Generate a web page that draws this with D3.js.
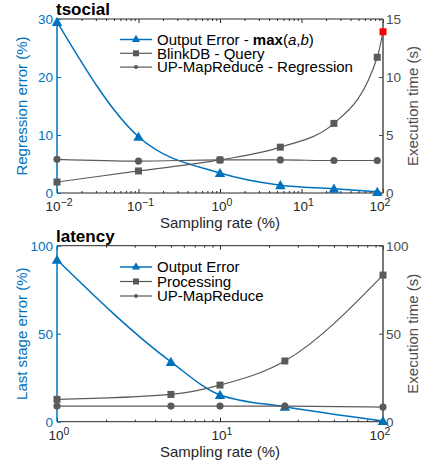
<!DOCTYPE html>
<html>
<head>
<meta charset="utf-8">
<script src="https://cdn.jsdelivr.net/npm/d3@7"></script>
<style>
  body { margin: 0; background: #fff; }
  svg { font-family: "Liberation Sans", Arial, sans-serif; }
  .domain { display: none; }
</style>
</head>
<body>
<div class="chart"></div>
<script>
// tsocial panel data
var tsocialRate = [0.01, 0.1, 1, 5.5, 25, 85];
var tsocialError = [29.5, 9.7, 3.45, 1.35, 0.75, 0.2];
var tsocialBlinkRate = [0.01, 0.1, 1, 5.5, 25, 85, 100];
var tsocialBlink = [0.95, 1.9, 2.85, 3.95, 6.0, 11.7, 13.9];
var tsocialUP = [2.9, 2.75, 2.85, 2.85, 2.8, 2.8];

// latency panel data
var latencyRate = [1, 5, 10, 25, 100];
var latencyError = [92, 34, 15.2, 8.5, 0.4];
var latencyProc = [12.7, 15.5, 20.8, 34.5, 83.3];
var latencyUP = [8.9, 8.9, 8.9, 8.9, 8.3];

// tick labels
var tsocialXTicks = [-2, -1, 0, 1, 2];
var tsocialLeftTicks = [0, 10, 20, 30];
var tsocialRightTicks = [0, 5, 10, 15];
var latencyXTicks = [0, 1, 2];
var latencyLeftTicks = [0, 50, 100];
var latencyRightTicks = [0, 50, 100];

var blue = "#0072BD";
var gray = "#5a5a5a";
var axisGray = "#4d4d4d";
var dark = "#262626";

var svg = d3.select(".chart")
  .append("svg")
  .attr("width", 425)
  .attr("height", 463);

function minorTicks(lo, hi) {
  var out = [];
  for (var e = lo; e < hi; e++) {
    for (var m = 2; m <= 9; m++) out.push(m * Math.pow(10, e));
  }
  return out;
}

function drawPanel(p) {
  var g = svg.append("g");
  var x = d3.scaleLog().domain(p.xDomain).range([p.left, p.right]);
  var yL = d3.scaleLinear().domain(p.leftDomain).range([p.bottom, p.top]);
  var yR = d3.scaleLinear().domain(p.rightDomain).range([p.bottom, p.top]);

  var majors = p.xTicks.map(e => Math.pow(10, e));
  var minors = minorTicks(p.xTicks[0], p.xTicks[p.xTicks.length - 1]);

  // box lines
  g.append("line").attr("x1", p.left).attr("x2", p.right).attr("y1", p.bottom).attr("y2", p.bottom)
    .attr("stroke", dark).attr("stroke-width", 1);
  g.append("line").attr("x1", p.left).attr("x2", p.right).attr("y1", p.top).attr("y2", p.top)
    .attr("stroke", dark).attr("stroke-width", 1);

  // x ticks, bottom and top, pointing inward
  [[p.bottom, d3.axisBottom], [p.top, d3.axisTop]].forEach(function (a) {
    g.append("g").attr("transform", `translate(0,${a[0]})`)
      .call(a[1](x).tickValues(majors).tickSizeInner(-4).tickSizeOuter(0).tickFormat(""))
      .selectAll("line").attr("stroke", dark);
    g.append("g").attr("transform", `translate(0,${a[0]})`)
      .call(a[1](x).tickValues(minors).tickSizeInner(-2).tickSizeOuter(0).tickFormat(""))
      .selectAll("line").attr("stroke", dark);
  });

  // x tick labels with exponents
  p.xTicks.forEach(function (e, i) {
    var shift = i === p.xTicks.length - 1 ? -3 : 2;
    var t = g.append("text")
      .attr("x", x(Math.pow(10, e)) + shift)
      .attr("y", p.bottom + 18)
      .attr("text-anchor", "middle")
      .style("font-size", "13.5px")
      .attr("fill", dark);
    t.append("tspan").text("10");
    t.append("tspan").attr("dy", -5).style("font-size", "10.5px").text(String(e).replace("-", "\u2212"));
  });

  // left axis
  var la = g.append("g").attr("transform", `translate(${p.left},0)`)
    .call(d3.axisLeft(yL).tickValues(p.leftTicks).tickSizeInner(-4).tickSizeOuter(0).tickPadding(4));
  la.selectAll("line").attr("stroke", blue);
  la.selectAll("text").attr("fill", blue).style("font-size", "13.5px").style("font-family", "Liberation Sans, Arial, sans-serif");
  g.append("line").attr("x1", p.left).attr("x2", p.left).attr("y1", p.top).attr("y2", p.bottom)
    .attr("stroke", blue).attr("stroke-width", 1.5);

  // right axis
  var ra = g.append("g").attr("transform", `translate(${p.right},0)`)
    .call(d3.axisRight(yR).tickValues(p.rightTicks).tickSizeInner(-4).tickSizeOuter(0).tickPadding(3));
  ra.selectAll("line").attr("stroke", axisGray);
  ra.selectAll("text").attr("fill", axisGray).style("font-size", "13.5px").style("font-family", "Liberation Sans, Arial, sans-serif");
  g.append("line").attr("x1", p.right).attr("x2", p.right).attr("y1", p.top).attr("y2", p.bottom)
    .attr("stroke", axisGray).attr("stroke-width", 1.5);

  // axis labels
  g.append("text")
    .attr("transform", `translate(22,${(p.top + p.bottom) / 2}) rotate(-90)`)
    .attr("text-anchor", "middle").attr("dy", "0.35em")
    .style("font-size", "15px").attr("fill", blue)
    .text(p.leftLabel);
  g.append("text")
    .attr("transform", `translate(413,${(p.top + p.bottom) / 2}) rotate(-90)`)
    .attr("text-anchor", "middle").attr("dy", "0.35em")
    .style("font-size", "15px").attr("fill", axisGray)
    .text("Execution time (s)");
  g.append("text")
    .attr("x", (p.left + p.right) / 2).attr("y", p.bottom + 35)
    .attr("text-anchor", "middle")
    .style("font-size", "15px").attr("fill", dark)
    .text("Sampling rate (%)");

  // title
  g.append("text")
    .attr("x", p.left - 1).attr("y", p.top - 4)
    .style("font-size", "17px").style("font-weight", "bold").attr("fill", "#000")
    .text(p.title);

  var line = function (ys, xs, scale) {
    return d3.line()
      .x((d, i) => x(xs[i]))
      .y(d => scale(d))
      .curve(d3.curveMonotoneX)(ys);
  };

  // blue error series (left axis)
  g.append("path").attr("d", line(p.error, p.rate, yL))
    .attr("fill", "none").attr("stroke", blue).attr("stroke-width", 1.5);
  g.selectAll(null).data(p.error).enter().append("path")
    .attr("d", d3.symbol(d3.symbolTriangle, 48)())
    .attr("transform", (d, i) => `translate(${x(p.rate[i])},${yL(d) + 1})`)
    .attr("fill", blue);

  // gray series (right axis)
  g.append("path").attr("d", line(p.procVals, p.procRate, yR))
    .attr("fill", "none").attr("stroke", gray).attr("stroke-width", 1.2);
  g.append("path").attr("d", line(p.up, p.rate, yR))
    .attr("fill", "none").attr("stroke", gray).attr("stroke-width", 1.2);
  g.selectAll(null).data(p.procVals).enter().append("rect")
    .attr("x", (d, i) => x(p.procRate[i]) - 3.5)
    .attr("y", d => yR(d) - 3.5)
    .attr("width", 7).attr("height", 7)
    .attr("fill", (d, i) => (p.highlight && i === p.procVals.length - 1) ? "#ff0000" : gray);
  g.selectAll(null).data(p.up).enter().append("circle")
    .attr("cx", (d, i) => x(p.rate[i]))
    .attr("cy", d => yR(d))
    .attr("r", 3.6)
    .attr("fill", gray);

  // legend
  var lx0 = 120, lx1 = 152;
  p.legend.forEach(function (item, i) {
    var ly = p.legendY + i * p.legendStep;
    var c = i === 0 ? blue : gray;
    g.append("line").attr("x1", lx0).attr("x2", lx1).attr("y1", ly).attr("y2", ly)
      .attr("stroke", c).attr("stroke-width", i === 0 ? 1.5 : 1.2);
    if (i === 0) {
      g.append("path").attr("d", d3.symbol(d3.symbolTriangle, 30)())
        .attr("transform", `translate(${(lx0 + lx1) / 2},${ly})`).attr("fill", blue);
    } else if (i === 1) {
      g.append("rect").attr("x", (lx0 + lx1) / 2 - 3).attr("y", ly - 3)
        .attr("width", 6).attr("height", 6).attr("fill", gray);
    } else {
      g.append("circle").attr("cx", (lx0 + lx1) / 2).attr("cy", ly).attr("r", 2).attr("fill", gray);
    }
    var t = g.append("text").attr("x", 157).attr("y", ly).attr("dy", "0.35em")
      .style("font-size", "15px").attr("fill", "#000");
    item.forEach(function (part) {
      var s = t.append("tspan").text(part.text);
      if (part.bold) s.style("font-weight", "bold");
      if (part.italic) s.style("font-style", "italic");
    });
  });
}

drawPanel({
  title: "tsocial",
  left: 57, right: 383, top: 19, bottom: 193,
  xDomain: [0.01, 100], xTicks: tsocialXTicks,
  leftDomain: [0, 30], leftTicks: tsocialLeftTicks,
  rightDomain: [0, 15], rightTicks: tsocialRightTicks,
  leftLabel: "Regression error (%)",
  rate: tsocialRate, error: tsocialError,
  procRate: tsocialBlinkRate, procVals: tsocialBlink,
  up: tsocialUP, highlight: true,
  legendY: 39.5, legendStep: 13.8,
  legend: [
    [{ text: "Output Error - " }, { text: "max", bold: true }, { text: "(" }, { text: "a", italic: true }, { text: "," }, { text: "b", italic: true }, { text: ")" }],
    [{ text: "BlinkDB - Query" }],
    [{ text: "UP-MapReduce - Regression" }]
  ]
});

drawPanel({
  title: "latency",
  left: 57, right: 383, top: 245.7, bottom: 421.7,
  xDomain: [1, 100], xTicks: latencyXTicks,
  leftDomain: [0, 100], leftTicks: latencyLeftTicks,
  rightDomain: [0, 100], rightTicks: latencyRightTicks,
  leftLabel: "Last stage error (%)",
  rate: latencyRate, error: latencyError,
  procRate: latencyRate, procVals: latencyProc,
  up: latencyUP, highlight: false,
  legendY: 267, legendStep: 14.5,
  legend: [
    [{ text: "Output Error" }],
    [{ text: "Processing" }],
    [{ text: "UP-MapReduce" }]
  ]
});
</script>
</body>
</html>
